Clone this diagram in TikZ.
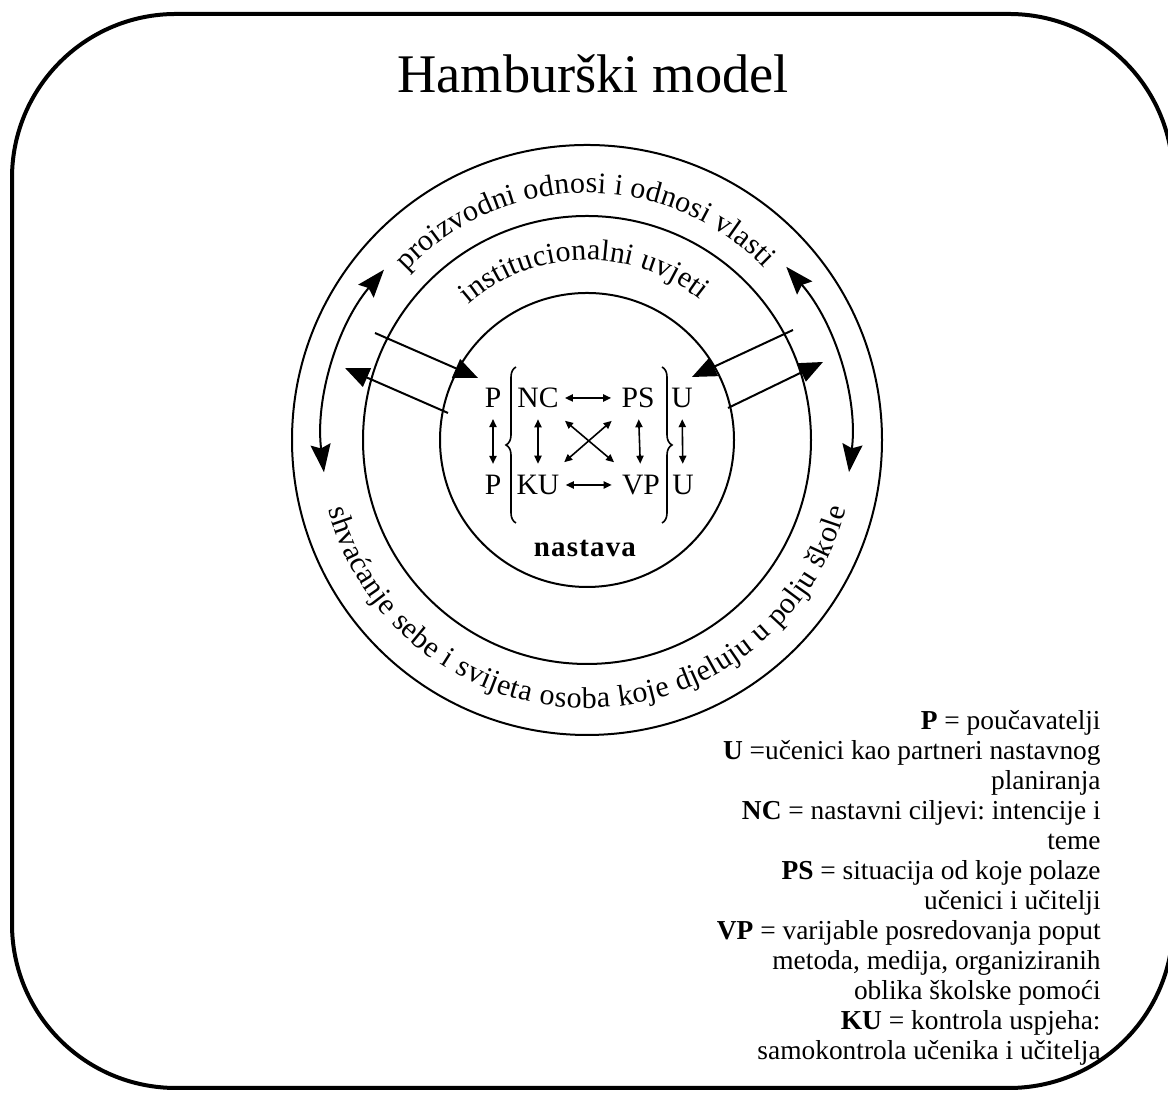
\documentclass[tikz,border=0pt]{standalone}
\usepackage{fontspec}
\setmainfont{Liberation Serif}
\usetikzlibrary{arrows.meta,decorations.text,decorations.pathreplacing,calc}
\newcommand\circtxt{\fontsize{15}{15}\selectfont}
\frenchspacing
\begin{document}
\begin{tikzpicture}[x=0.5pt,y=0.5pt,
  framebox/.style={line width=2pt, rounded corners=82pt},
  ring/.style={line width=1pt},
  lbl/.style={font=\fontsize{14.8}{14.8}\selectfont, inner sep=3pt},
  dblarrow/.style={line width=0.8pt, {Triangle[length=4pt,width=3.6pt]}-{Triangle[length=4pt,width=3.6pt]}},
  bigin/.style={line width=1pt, -{Triangle[length=12pt,width=10pt]}},
  arcarrow/.style={line width=1pt, {Stealth[length=14pt,width=10pt,inset=2pt]}-{Stealth[length=14pt,width=10pt,inset=2pt]}},
  bracestyle/.style={line width=0.8pt, decorate, decoration={brace, amplitude=5pt}},
]
\useasboundingbox (0,0) rectangle (1168,1095);
\fill[white] (0,0) rectangle (1168,1095);
\draw[framebox] (12,7) rectangle (1173,1081);

\node[font=\fontsize{27.2}{27.2}\selectfont, anchor=base, inner sep=0] (title) at (593,1002) {Hamburški model};

% circles
\coordinate (C) at (587,655);
\draw[ring] (C) circle[radius=295];
\draw[ring] (C) circle[radius=224];
\draw[ring] (C) circle[radius=147];

% curved texts
\coordinate (t1) at ($(C)+(137:247)$);
\path[decorate, decoration={text along path, text align=fit to path,
  text={|\circtxt|proizvodni odnosi i odnosi vlasti}}]
  (t1) arc[start angle=137, end angle=44, radius=247];
\coordinate (t2) at ($(C)+(131:180)$);
\path[decorate, decoration={text along path, text align=fit to path,
  text={|\circtxt|institucionalni uvjeti}}]
  (t2) arc[start angle=131, end angle=51, radius=180];
\coordinate (t3) at ($(C)+(195:268)$);
\path[decorate, decoration={text along path, text align=fit to path,
  text={|\circtxt|shvaćanje sebe i svijeta osoba koje djeluju u polju škole}}]
  (t3) arc[start angle=195, end angle=345, radius=268];

% curved double arrows
\coordinate (la) at ($(C)+(140:265)$);
\draw[arcarrow] (la) arc[start angle=140, end angle=187, radius=265];
\coordinate (ra) at ($(C)+(41:264)$);
\draw[arcarrow] (ra) arc[start angle=41, end angle=-7, radius=264];

% parallel arrows
\coordinate (a1) at (375,762); \coordinate (a2) at (478,717);
\coordinate (b1) at (448,682); \coordinate (b2) at (345,727);
\coordinate (c1) at (793,765); \coordinate (c2) at (692,718);
\coordinate (d1) at (728,687); \coordinate (d2) at (823,733);
\draw[bigin] (a1) -- (a2);
\draw[bigin] (b1) -- (b2);
\draw[bigin] (c1) -- (c2);
\draw[bigin] (d1) -- (d2);

% centre
\node[lbl] (P1) at (493,697) {P};
\node[lbl] (NC) at (538,697) {NC};
\node[lbl] (PS) at (638,697) {PS};
\node[lbl] (U1) at (682,697) {U};
\node[lbl] (P2) at (493,610) {P};
\node[lbl] (KU) at (538,610) {KU};
\node[lbl] (VP) at (641,610) {VP};
\node[lbl] (U2) at (683,610) {U};

\draw[dblarrow, shorten >=2pt] (NC) -- (PS);
\draw[dblarrow, shorten >=2pt] (KU) -- (VP);
\draw[dblarrow, shorten <=2.5pt, shorten >=2.5pt] (P1) -- (P2);
\draw[dblarrow, shorten <=2.5pt, shorten >=2.5pt] (NC) -- (KU);
\draw[dblarrow, shorten <=2.5pt, shorten >=2.5pt] (PS) -- (VP);
\draw[dblarrow, shorten <=2.5pt, shorten >=2.5pt] (U1) -- (U2);
\draw[dblarrow, shorten <=5pt, shorten >=5pt] (NC) -- (VP);
\draw[dblarrow, shorten <=5pt, shorten >=5pt] (PS) -- (KU);

\coordinate (lb1) at (516,572); \coordinate (lb2) at (516,728);
\coordinate (rb1) at (662,728); \coordinate (rb2) at (662,572);
\draw[bracestyle] (lb1) -- (lb2);
\draw[bracestyle] (rb1) -- (rb2);

\node[font=\fontsize{14.5}{14.5}\selectfont\bfseries\addfontfeatures{LetterSpace=4}, inner sep=0] (nastava) at (585,547) {nastava};

% legend
\node[anchor=north east, align=right, inner sep=0, font=\fontsize{13.7}{15}\selectfont] (legend) at (1101,385)
{\textbf{P} = poučavatelji\\
\textbf{U} =učenici kao partneri nastavnog\\
planiranja\\
\textbf{NC} = nastavni ciljevi: intencije i\\
teme\\
\textbf{PS} = situacija od koje polaze\\
učenici i učitelji\\
\textbf{VP} = varijable posredovanja poput\\
metoda, medija, organiziranih\\
oblika školske pomoći\\
\textbf{KU} = kontrola uspjeha:\\
samokontrola učenika i učitelja};
\end{tikzpicture}
\end{document}
